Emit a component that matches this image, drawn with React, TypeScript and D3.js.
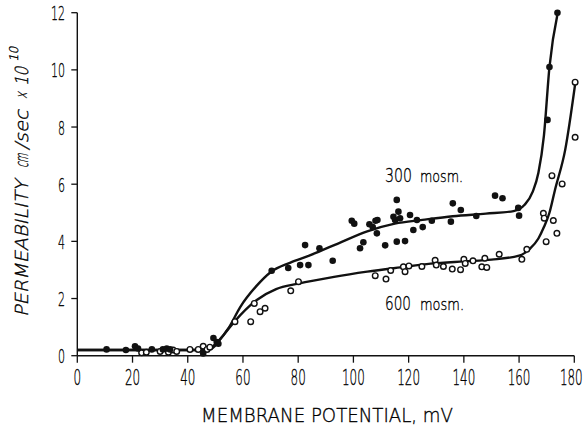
import React from "react";
import * as d3 from "d3";

// ---- data ----
const xTicks = [0, 20, 40, 60, 80, 100, 120, 140, 160, 180];
const yTicks = [0, 2, 4, 6, 8, 10, 12];

// 300 mosm. (filled circles)
const filled300: [number, number][] = [
  [10.6, 0.22], [17.6, 0.2], [20.9, 0.33], [22, 0.25], [27, 0.22], [31, 0.22], [32.4, 0.25], [33.6, 0.22],
  [45.6, 0.08], [49.3, 0.62], [50.5, 0.48], [51.1, 0.42],
  [70.4, 2.97], [76.4, 3.07], [80.7, 3.17], [83.7, 3.17], [82.5, 3.87], [87.7, 3.76], [92.5, 3.32],
  [99.4, 4.72], [100.3, 4.62], [102.4, 3.76], [103.6, 3.97], [105.8, 4.6], [107, 4.5], [108, 4.72],
  [108.7, 4.75], [108.5, 4.28], [111.5, 3.86], [114.5, 4.86], [115.1, 4.75], [115.7, 5.45], [116.3, 5.04],
  [116.9, 4.81], [115.7, 3.99], [118.7, 4.01], [120.5, 4.92], [121.7, 4.4], [123, 4.75], [125.1, 4.5],
  [128.4, 4.72], [135.3, 4.69], [136, 5.33], [138.9, 5.1], [144.5, 4.89], [151.3, 5.6], [154, 5.51],
  [159.7, 5.17], [160, 4.9], [170.3, 8.25], [171, 10.1], [173.9, 12.0],
];

// 600 mosm. (open circles)
const open600: [number, number][] = [
  [23.3, 0.1], [25, 0.12], [30, 0.15], [33, 0.12], [34.7, 0.2], [36, 0.15], [40.8, 0.22], [43.8, 0.22],
  [45.6, 0.33], [47, 0.22], [48, 0.3],
  [57.1, 1.19], [62.8, 1.19], [64.1, 1.83], [66.2, 1.54], [68, 1.66], [77.3, 2.27], [80.1, 2.59],
  [107.9, 2.8], [111.8, 2.68], [113.5, 2.98], [118.1, 3.11], [118.7, 2.94], [120.1, 3.14], [124.8, 3.12],
  [129.6, 3.34], [130, 3.17], [132.6, 3.12], [135.8, 3.03], [138.8, 3.01], [140, 3.37], [140.5, 3.23],
  [143.3, 3.32], [146.5, 3.11], [147.6, 3.41], [148.3, 3.09], [152.8, 3.55], [161, 3.37], [162.8, 3.72],
  [168.8, 4.98], [169.1, 4.81], [169.8, 3.99], [171.9, 6.3], [172.4, 4.73], [173.7, 4.28], [175.6, 6.01],
  [180.3, 7.64], [180.3, 9.57],
];

// fitted curves (hand-drawn in the original)
const curve300: [number, number][] = [
  [0, 0.2], [45, 0.2], [48, 0.26], [51, 0.5], [55, 1.0], [59, 1.7], [65, 2.45], [70, 2.92], [77, 3.25],
  [84, 3.5], [95, 3.95], [105, 4.35], [115, 4.62], [125, 4.75], [136, 4.88], [148, 4.97], [158, 5.06],
  [162, 5.28], [165, 5.75], [167, 6.4], [169, 7.7], [171, 10.1], [174, 12.0],
];
const curve600: [number, number][] = [
  [0, 0.2], [47, 0.2], [50, 0.35], [52, 0.6], [57, 1.2], [65, 1.95], [72, 2.33], [80, 2.52], [93, 2.76],
  [105, 2.94], [117, 3.09], [128, 3.22], [140, 3.3], [150, 3.36], [160, 3.5], [164, 3.75], [167, 4.1],
  [169, 4.5], [171, 5.0], [173, 5.8], [176.7, 7.2], [180.3, 9.5],
];

const FONT = "'DejaVu Sans', 'Liberation Sans Narrow', sans-serif";
const INK = "#000";

export default function App() {
  const x = d3.scaleLinear().domain([0, 180]).range([77.3, 574.3]);
  const y = d3.scaleLinear().domain([0, 12]).range([355.7, 12.7]);
  const line = d3
    .line<[number, number]>()
    .x((d) => x(d[0]))
    .y((d) => y(d[1]))
    .curve(d3.curveMonotoneX);

  return (
    <svg
      width={588}
      height={428}
      style={{ position: "absolute", left: 0, top: 0, background: "#fff" }}
      fontFamily={FONT}
      fontWeight={200}
    >
      <rect width={588} height={428} fill="#fff" />
      <g fill={INK} stroke={INK} strokeWidth={0.35}>
        {yTicks.map((t) => (
          <text
            key={"yl" + t}
            x={65}
            y={y(t) + 7.5}
            textAnchor="end"
            fontSize={20}
            textLength={String(t).length * 7}
            lengthAdjust="spacingAndGlyphs"
          >
            {t}
          </text>
        ))}
        {xTicks.map((t) => {
          const w = String(t).length * 7.6;
          const last = t === 180;
          return (
            <text
              key={"xl" + t}
              x={last ? x(t) - 3 + w / 2 : x(t)}
              y={385}
              textAnchor={last ? "end" : "middle"}
              fontSize={22}
              textLength={w}
              lengthAdjust="spacingAndGlyphs"
            >
              {t}
            </text>
          );
        })}
        {/* axis titles */}
        <text x={201} y={422} fontSize={20} textLength={252} lengthAdjust="spacingAndGlyphs">
          MEMBRANE POTENTIAL, mV
        </text>
        <g transform="translate(28,317) rotate(-90) skewX(-13)">
          <text fontSize={18}>
            <tspan x={0} y={0} textLength={137} lengthAdjust="spacingAndGlyphs">PERMEABILITY</tspan>
            <tspan x={149} y={0} textLength={14} lengthAdjust="spacingAndGlyphs">cm</tspan>
            <tspan x={167} y={0} textLength={40} lengthAdjust="spacingAndGlyphs">/sec</tspan>
            <tspan x={217} y={0} textLength={8} lengthAdjust="spacingAndGlyphs">×</tspan>
            <tspan x={231} y={0} textLength={19} lengthAdjust="spacingAndGlyphs">10</tspan>
            <tspan x={253} y={-10} fontSize={12} textLength={15} lengthAdjust="spacingAndGlyphs">10</tspan>
          </text>
        </g>
        {/* series labels */}
        <text y={182}>
          <tspan x={385} fontSize={20} textLength={27} lengthAdjust="spacingAndGlyphs">300</tspan>
          <tspan x={420} fontSize={16} textLength={43} lengthAdjust="spacingAndGlyphs">mosm.</tspan>
        </text>
        <text y={310}>
          <tspan x={385} fontSize={20} textLength={26} lengthAdjust="spacingAndGlyphs">600</tspan>
          <tspan x={420} fontSize={16} textLength={44} lengthAdjust="spacingAndGlyphs">mosm.</tspan>
        </text>
      </g>

      {/* axes */}
      <line x1={x(0)} x2={x(0)} y1={y(12)} y2={y(0)} stroke="#111" strokeWidth={1.4} />
      <line x1={x(0)} x2={x(180)} y1={y(0)} y2={y(0)} stroke="#111" strokeWidth={1.4} />
      {yTicks.map((t) => (
        <line key={"yt" + t} x1={x(0) - 6} x2={x(0)} y1={y(t)} y2={y(t)} stroke="#111" strokeWidth={1.3} />
      ))}
      {xTicks.map((t) => (
        <line key={"xt" + t} x1={x(t)} x2={x(t)} y1={y(0)} y2={y(0) + 7} stroke="#111" strokeWidth={1.3} />
      ))}

      {/* curves */}
      <path d={line(curve300) ?? ""} fill="none" stroke="#111" strokeWidth={2.4} />
      <path d={line(curve600) ?? ""} fill="none" stroke="#111" strokeWidth={2.4} />

      {/* points */}
      {open600.map((d, i) => (
        <circle key={"o" + i} cx={x(d[0])} cy={y(d[1])} r={2.8} fill="#fff" stroke="#111" strokeWidth={1.4} />
      ))}
      {filled300.map((d, i) => (
        <circle key={"f" + i} cx={x(d[0])} cy={y(d[1])} r={3.3} fill="#111" />
      ))}
    </svg>
  );
}
